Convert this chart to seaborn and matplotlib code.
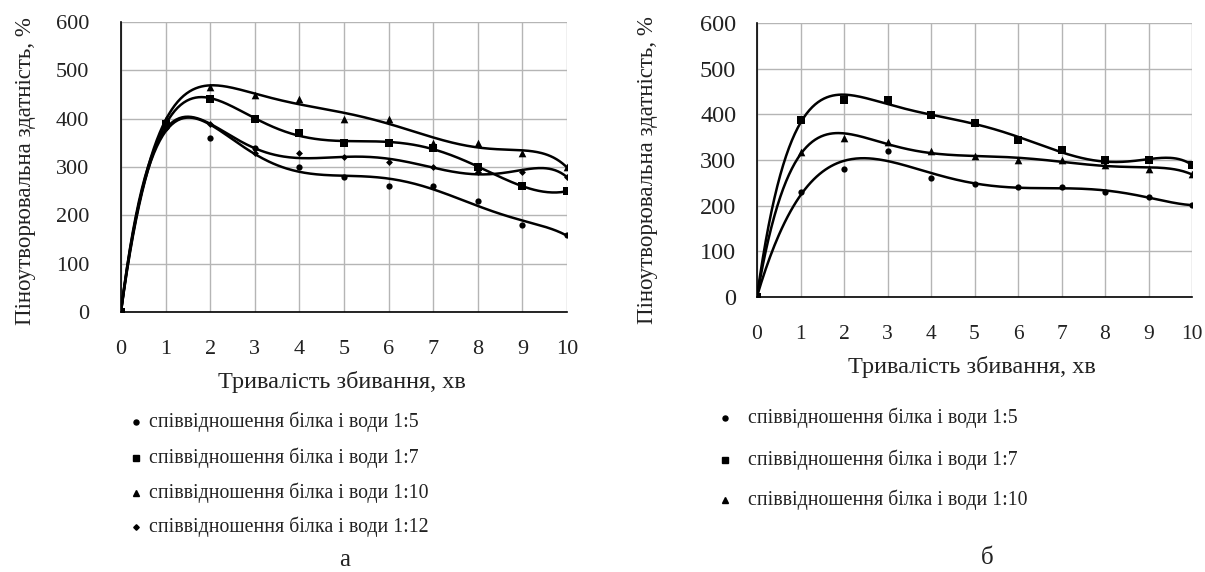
import numpy as np
import pandas as pd
import matplotlib
matplotlib.use("Agg")
import matplotlib.pyplot as plt
from matplotlib.lines import Line2D
import seaborn as sns

sns.set_theme(style="white")
plt.rcParams["font.family"] = ["Liberation Serif", "DejaVu Serif"]

# ---- data ----
minutes = [0, 1, 2, 3, 4, 5, 6, 7, 8, 9, 10]

a_labels = ["співвідношення білка і води 1:5", "співвідношення білка і води 1:7",
            "співвідношення білка і води 1:10", "співвідношення білка і води 1:12"]
a_1_5 = [0, 390, 360, 340, 300, 280, 260, 260, 230, 180, 160]
a_1_7 = [0, 390, 440, 400, 370, 350, 350, 340, 300, 260, 250]
a_1_10 = [0, 400, 465, 450, 440, 400, 400, 350, 350, 330, 300]
a_1_12 = [0, 380, 390, 330, 330, 320, 310, 300, 290, 290, 280]

b_labels = ["співвідношення білка і води 1:5", "співвідношення білка і води 1:7",
            "співвідношення білка і води 1:10"]
b_1_5 = [0, 230, 280, 320, 260, 248, 241, 241, 230, 219, 201]
b_1_7 = [0, 388, 431, 431, 399, 381, 343, 321, 299, 299, 290]
b_1_10 = [0, 318, 349, 339, 319, 308, 299, 299, 290, 281, 269]

yticks = [0, 100, 200, 300, 400, 500, 600]
xticks = minutes

W, H = 1205, 572
fig = plt.figure(figsize=(W / 100, H / 100), dpi=100)

def frac(x0, y0, x1, y1):
    return [x0 / W, 1 - y1 / H, (x1 - x0) / W, (y1 - y0) / H]

axA = fig.add_axes(frac(121, 22, 567, 312))
axB = fig.add_axes(frac(757, 23, 1192, 297))

mk = {"1:5": ("o", 4.5), "1:7": ("s", 5.5), "1:10": ("^", 5.5), "1:12": ("D", 3.5)}

def draw(ax, series, keys, fs_x, fs_y, ypad, xpad):
    xs = np.array(minutes, dtype=float)
    xf = np.linspace(0, 10, 300)
    for vals, key in zip(series, keys):
        coef = np.polyfit(xs, np.array(vals, float), 6)
        yf = np.polyval(coef, xf)
        sns.lineplot(x=xf, y=yf, ax=ax, color="black", lw=1.8, zorder=3)
        m, s = mk[key]
        sns.scatterplot(x=xs, y=vals, ax=ax, marker=m, s=s ** 2, color="black",
                        edgecolor="black", linewidth=0, zorder=4)
    ax.set_xlim(0, 10)
    ax.set_ylim(0, 600)
    ax.set_xticks(xticks)
    ax.set_yticks(yticks)
    ax.grid(True, color="#b5b5b5", lw=1.0)
    ax.set_axisbelow(True)
    for sp in ["top", "right"]:
        ax.spines[sp].set_visible(False)
    for sp in ["left", "bottom"]:
        ax.spines[sp].set_color("black")
        ax.spines[sp].set_linewidth(1.2)
    ax.tick_params(axis="both", direction="out", length=5, width=1.0, color="black",
                   labelcolor="#222222")
    ax.tick_params(axis="x", pad=xpad, labelsize=fs_x)
    ax.tick_params(axis="y", pad=ypad, labelsize=fs_y)
    ax.set_xlabel("")
    ax.set_ylabel("")

draw(axA, [a_1_5, a_1_7, a_1_10, a_1_12], ["1:5", "1:7", "1:10", "1:12"], 16, 16, 18, 15.5)
draw(axB, [b_1_5, b_1_7, b_1_10], ["1:5", "1:7", "1:10"], 15.5, 17.5, 10, 15.5)

ylab = "Піноутворювальна здатність, %"
fig.text(26 / W, 1 - 171 / H, ylab, rotation=90, ha="center", va="center", fontsize=16.5, color="#222222")
fig.text(648 / W, 1 - 170 / H, ylab, rotation=90, ha="center", va="center", fontsize=16.5, color="#222222")
xlab = "Тривалість збивання, хв"
fig.text(342 / W, 1 - 382 / H, xlab, ha="center", va="center", fontsize=17.5, color="#222222")
fig.text(972 / W, 1 - 367 / H, xlab, ha="center", va="center", fontsize=17.5, color="#222222")

def legend(keys, labels, x, ys, bx):
    for key, lab, y in zip(keys, labels, ys):
        m, s = mk[key]
        fig.add_artist(Line2D([bx / W], [1 - y / H], marker=m, markersize=s * 0.8,
                              color="black", lw=0, transform=fig.transFigure))
        fig.text(x / W, 1 - y / H, lab, ha="left", va="center", fontsize=14.3, color="#222222")

legend(["1:5", "1:7", "1:10", "1:12"], a_labels, 149, [422, 458, 493, 527], 136)
legend(["1:5", "1:7", "1:10"], b_labels, 748, [418, 460, 500], 725)

fig.text(345 / W, 1 - 560 / H, "а", ha="center", va="center", fontsize=18, color="#222222")
fig.text(987 / W, 1 - 558 / H, "б", ha="center", va="center", fontsize=18, color="#222222")

fig.savefig("out.png", dpi=100)
